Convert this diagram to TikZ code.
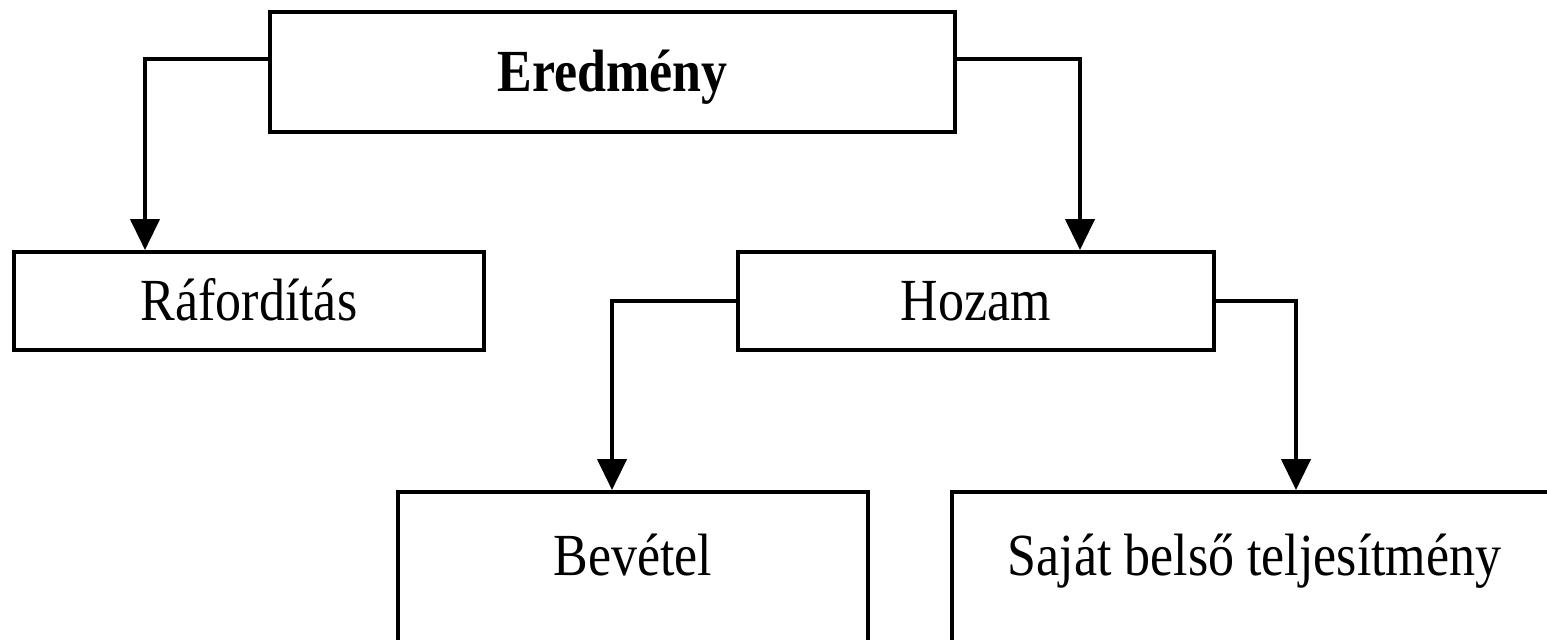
\documentclass[tikz,border=0pt]{standalone}
\usepackage{fontspec}
\setmainfont[FakeStretch=0.87]{Liberation Serif}
\usepackage{tikz}
\usetikzlibrary{arrows.meta}

\tikzset{
  doboz/.style={draw, line width=2.2pt, rectangle, inner sep=0pt,
    font=\fontsize{34}{40}\selectfont, text height=1.0cm, text depth=0.2cm},
  also/.style={doboz, text height=0.6cm, text depth=0.24cm},
  nyil/.style={line width=2.4pt, -{Triangle[width=0.58cm,length=0.62cm]}}
}

\begin{document}
\begin{tikzpicture}
  \path[use as bounding box, clip] (0,0) rectangle (30.94,12.8);

  \node[doboz, minimum width=13.7cm, minimum height=2.4cm] (erd) at (12.25,11.36) {\textbf{Eredmény}};
  \node[doboz, minimum width=9.4cm, minimum height=1.96cm] (raf) at (4.98,6.78) {Ráfordítás};
  \node[doboz, minimum width=9.52cm, minimum height=1.96cm] (hoz) at (19.52,6.78) {Hozam};
  \node[also, minimum width=9.4cm, minimum height=3.0cm] (bev) at (12.66,1.46) {Bevétel};
  \node[also, minimum width=12.1cm, minimum height=3.0cm] (saj) at (25.09,1.46) {Saját belső teljesítmény};

  % nyilak
  \draw[nyil] ([yshift=0.26cm]erd.west) -| ([xshift=-2.08cm]raf.north);
  \draw[nyil] ([yshift=0.26cm]erd.east) -| ([xshift=2.08cm]hoz.north);
  \draw[nyil] (hoz.west) -| ([xshift=-0.42cm]bev.north);
  \draw[nyil] (hoz.east) -| ([xshift=0.83cm]saj.north);
\end{tikzpicture}
\end{document}
